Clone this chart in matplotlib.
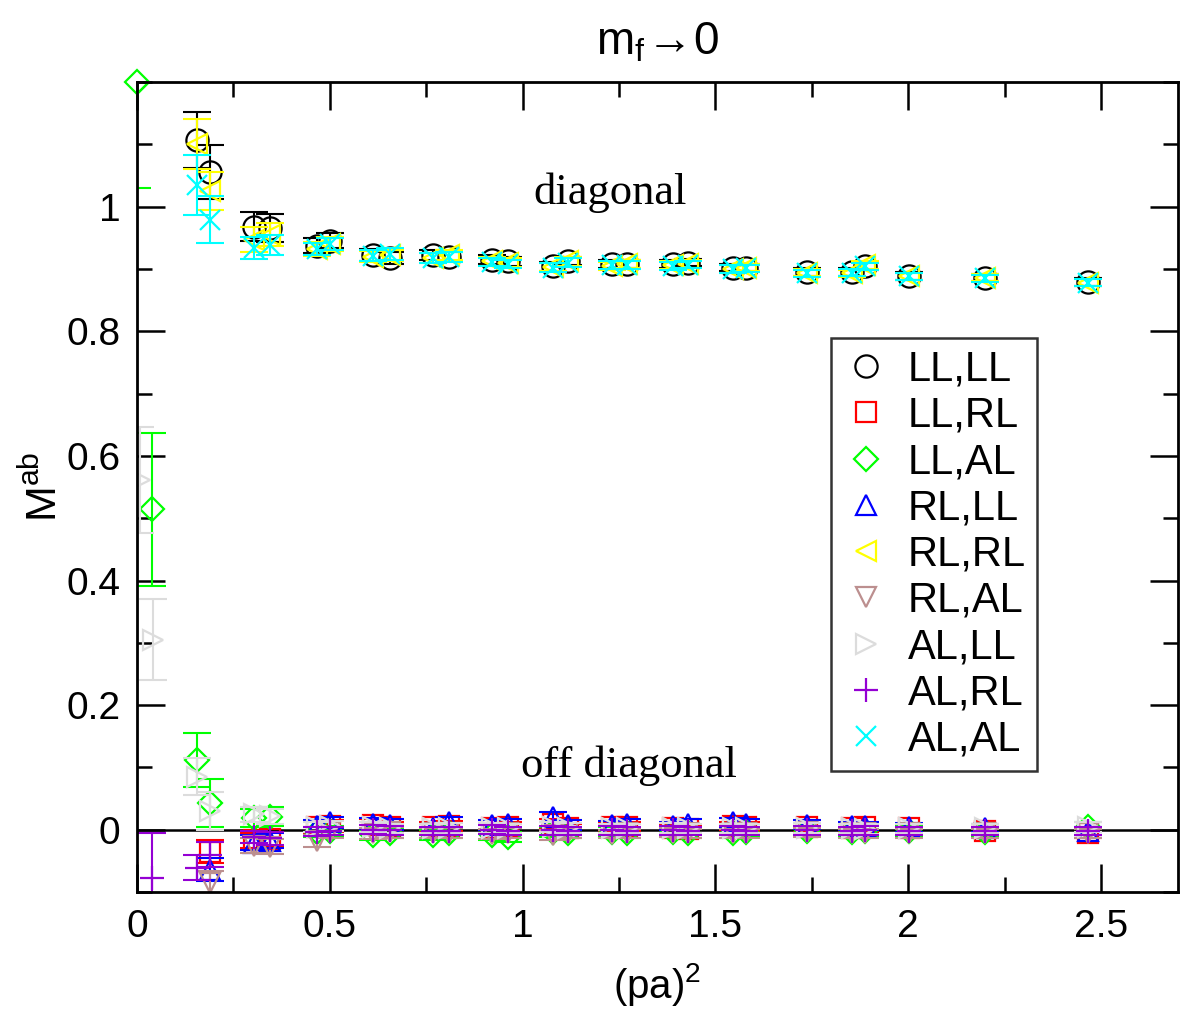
import numpy as np
import matplotlib.pyplot as plt
from matplotlib.ticker import MultipleLocator

plt.rcParams['font.family'] = ['Liberation Sans', 'DejaVu Sans']
plt.rcParams['mathtext.fontset'] = 'custom'
plt.rcParams['mathtext.rm'] = 'Liberation Sans'
plt.rcParams['mathtext.it'] = 'Liberation Sans'
plt.rcParams['mathtext.fallback'] = 'stixsans'

# common momentum values (pa)^2
x_diag = [0.155, 0.19, 0.303, 0.345, 0.467, 0.50, 0.612, 0.656, 0.768, 0.808, 0.922, 0.962,
          1.078, 1.117, 1.233, 1.272, 1.39, 1.428, 1.545, 1.58, 1.738, 1.853, 1.889, 2.003,
          2.2, 2.467]
x_off = x_diag[1:]

# diagonal entries
ll_ll = [1.107, 1.056, 0.968, 0.966, 0.937, 0.945, 0.922, 0.918, 0.923, 0.920, 0.915, 0.912,
         0.904, 0.913, 0.908, 0.908, 0.908, 0.910, 0.902, 0.902, 0.895, 0.895, 0.905, 0.889,
         0.886, 0.879]
ll_ll_err = [0.045, 0.043, 0.023, 0.022, 0.012, 0.012, 0.010, 0.010, 0.008, 0.008, 0.007, 0.007,
             0.007, 0.007, 0.006, 0.006, 0.006, 0.006, 0.006, 0.006, 0.006, 0.006, 0.006, 0.006,
             0.006, 0.006]
rl_rl = [1.100, 1.025, 0.947, 0.955, 0.932, 0.940, 0.920, 0.922, 0.918, 0.922, 0.912, 0.910,
         0.903, 0.912, 0.905, 0.908, 0.906, 0.908, 0.900, 0.902, 0.894, 0.893, 0.906, 0.888,
         0.886, 0.878]
rl_rl_err = [0.040, 0.030, 0.020, 0.018, 0.011, 0.011, 0.009, 0.009, 0.008, 0.008, 0.007, 0.007,
             0.007, 0.007, 0.006, 0.006, 0.006, 0.006, 0.006, 0.006, 0.006, 0.006, 0.006, 0.006,
             0.006, 0.006]
al_al = [1.035, 0.979, 0.934, 0.939, 0.932, 0.940, 0.921, 0.924, 0.917, 0.919, 0.911, 0.908,
         0.902, 0.910, 0.906, 0.906, 0.905, 0.907, 0.900, 0.901, 0.893, 0.894, 0.904, 0.888,
         0.885, 0.878]
al_al_err = [0.048, 0.038, 0.018, 0.016, 0.010, 0.010, 0.009, 0.009, 0.008, 0.008, 0.007, 0.007,
             0.007, 0.007, 0.006, 0.006, 0.006, 0.006, 0.006, 0.006, 0.006, 0.006, 0.006, 0.006,
             0.006, 0.006]

# off-diagonal entries (from (pa)^2 = 0.19 on)
ll_rl = [-0.035, -0.017, -0.015, 0.004, 0.006, 0.008, 0.004, 0.004, 0.006, 0.003, 0.004, 0.010,
         0.002, 0.004, 0.005, 0.002, 0.001, 0.006, 0.005, 0.004, 0.003, 0.004, 0.002, -0.002,
         -0.006]
rl_ll = [-0.064, -0.021, -0.018, 0.006, 0.012, 0.010, 0.008, 0.002, 0.012, 0.008, 0.010, 0.020,
         0.008, 0.007, 0.010, 0.006, 0.010, 0.012, 0.010, 0.008, 0.006, 0.006, 0.004, 0.003,
         -0.002]
rl_al = [-0.085, -0.026, -0.027, -0.018, -0.004, -0.006, -0.004, -0.006, -0.005, -0.007, -0.006,
         -0.008, -0.006, -0.007, -0.006, -0.005, -0.006, -0.006, -0.006, -0.004, -0.006, -0.006,
         -0.006, -0.006, -0.006]
off_err = [0.018, 0.012, 0.012, 0.010, 0.009, 0.009, 0.009, 0.008, 0.008, 0.008, 0.008, 0.008,
           0.008, 0.007, 0.007, 0.007, 0.007, 0.007, 0.007, 0.007, 0.007, 0.007, 0.007, 0.007,
           0.007]

x_ll_al = [0.0, 0.039] + x_diag
ll_al = [1.2, 0.514, 0.112, 0.043, 0.019, 0.021, -0.004, -0.002, -0.008, -0.005, -0.009, -0.006,
         -0.008, -0.012, -0.003, -0.005, -0.004, -0.006, -0.003, -0.006, -0.005, -0.004, -0.002,
         -0.003, -0.002, -0.002, -0.003, 0.004]
ll_al_err = [0.17, 0.123, 0.043, 0.038, 0.015, 0.015] + [0.008] * 22

x_al_ll = [0.008, 0.042] + x_diag
al_ll = [0.562, 0.305, 0.085, 0.030, 0.025, 0.022, 0.004, 0.006, 0.004, 0.002, 0.002, 0.003,
         0.003, 0.002, 0.004, 0.003, 0.002, 0.002, 0.003, 0.002, 0.002, 0.002, 0.003, 0.002,
         0.001, 0.002, 0.002, 0.004]
al_ll_err = [0.085, 0.065, 0.030, 0.030, 0.012, 0.012] + [0.008] * 22

x_al_rl = [0.039] + x_diag
al_rl = [-0.078, -0.061, -0.040, -0.012, -0.014, -0.003, -0.002, 0.000, -0.001, -0.002, -0.002,
         0.000, -0.002, -0.001, -0.002, -0.001, -0.002, -0.001, -0.002, -0.001, -0.002, -0.001,
         -0.002, -0.001, -0.002, -0.002, -0.002]
al_rl_err = [0.073, 0.020, 0.020, 0.010, 0.010] + [0.007] * 22

series = [
    ("LL,LL", x_diag, ll_ll, ll_ll_err, 'o', 'black', 16),
    ("LL,RL", x_off, ll_rl, off_err, 's', 'red', 14),
    ("LL,AL", x_ll_al, ll_al, ll_al_err, 'D', '#00ff00', 12),
    ("RL,LL", x_off, rl_ll, off_err, '^', 'blue', 15),
    ("RL,RL", x_diag, rl_rl, rl_rl_err, '<', '#ffff00', 15),
    ("RL,AL", x_off, rl_al, off_err, 'v', '#bc8f8f', 15),
    ("AL,LL", x_al_ll, al_ll, al_ll_err, '>', '#dcdcdc', 15),
    ("AL,RL", x_al_rl, al_rl, al_rl_err, '+', '#9400d3', 17),
    ("AL,AL", x_diag, al_al, al_al_err, 'x', '#00ffff', 14),
]

fig = plt.figure(figsize=(11.94, 10.13), dpi=100)
ax = fig.add_axes([0.1147, 0.1194, 0.872, 0.7996])

ax.axhline(0, color='black', lw=1.8, zorder=1)

for name, xs, ys, es, m, c, ms in series:
    ax.errorbar(xs, ys, yerr=es, fmt='none', ecolor=c, elinewidth=1.5, capsize=10, capthick=1.5)
    ax.plot(xs, ys, ls='none', marker=m, ms=ms, mfc='none', mec=c, mew=1.6, label=name)

# the green point sitting on the top-left corner
ax.plot([x_ll_al[0]], [ll_al[0]], ls='none', marker='D', ms=12, mfc='none', mec='#00ff00',
        mew=1.6, clip_on=False)

ax.set_xlim(0, 2.7)
ax.set_ylim(-0.1, 1.2)
ax.xaxis.set_minor_locator(MultipleLocator(0.25))
ax.yaxis.set_minor_locator(MultipleLocator(0.1))
ax.set_xticks([0, 0.5, 1, 1.5, 2, 2.5])
ax.set_xticklabels(['0', '0.5', '1', '1.5', '2', '2.5'])
ax.set_yticks([0, 0.2, 0.4, 0.6, 0.8, 1.0])
ax.set_yticklabels(['0', '0.2', '0.4', '0.6', '0.8', '1'])
ax.tick_params(which='both', direction='in', top=True, right=True, width=1.8, labelsize=28)
ax.tick_params(which='major', length=20, pad=12)
ax.tick_params(which='minor', length=11)
for s in ax.spines.values():
    s.set_linewidth(2)

ax.set_xlabel('(pa)$^{\\mathregular{2}}$', fontsize=29, labelpad=12)
ax.set_ylabel('M$^{\\mathregular{ab}}$', fontsize=31, labelpad=0)
ax.set_title('m$_{\\mathregular{f}}\\!\\rightarrow\\!\\mathregular{0}$', fontsize=33, pad=20)

ax.text(1.227, 1.022, 'diagonal', family='Liberation Serif', fontsize=32, ha='center', va='center')
ax.text(1.276, 0.103, 'off diagonal', family='Liberation Serif', fontsize=32, ha='center', va='center')

leg = ax.legend(loc='upper left', bbox_to_anchor=(0.667, 0.684), fontsize=30, frameon=True,
                fancybox=False, borderpad=0.28, labelspacing=0.15, handletextpad=0.45,
                handlelength=1.1, borderaxespad=0)
leg.get_frame().set_edgecolor('black')
leg.get_frame().set_linewidth(1.8)

fig.savefig('out.png', dpi=100)
